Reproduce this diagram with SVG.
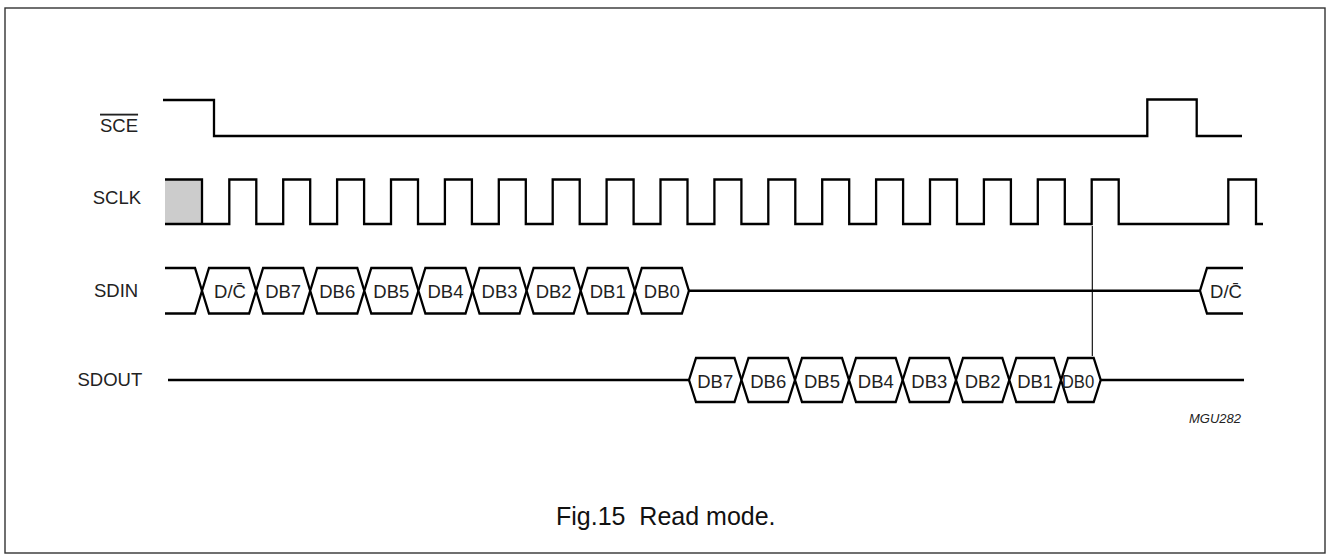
<svg xmlns="http://www.w3.org/2000/svg" width="1327" height="559" viewBox="0 0 1327 559">
<style>
.sig{fill:none;stroke:#000;stroke-width:2.3;stroke-linejoin:miter;stroke-linecap:butt}
.hex{fill:#fff;stroke:#000;stroke-width:2.3;stroke-linejoin:miter}
.lbl{font-family:"Liberation Sans",Arial,sans-serif;font-size:18.5px;fill:#222}
.bt{font-family:"Liberation Sans","DejaVu Sans",Arial,sans-serif;font-size:18.5px;fill:#222;text-anchor:middle}
.cap{font-family:"Liberation Sans",Arial,sans-serif;font-size:25px;fill:#111;white-space:pre}
.id{font-family:"Liberation Sans",Arial,sans-serif;font-size:13px;font-style:italic;fill:#222;text-anchor:end}
</style>
<rect x="5" y="8" width="1320" height="545" fill="#fff" stroke="#333" stroke-width="1.4"/>

<g id="SCE">
<text class="lbl" x="100" y="131.7" text-decoration="overline">SCE</text>
<path class="sig" d="M163,100 H214 V136 H1147.3 V99.5 H1196.7 V136 H1242"/>
</g>

<g id="SCLK">
<text class="lbl" x="92.7" y="204.3">SCLK</text>
<rect x="165" y="179.5" width="37" height="44.5" fill="#ccc"/>
<path class="sig" d="M165,179.5 H202 V224"/>
<path class="sig" d="M165,224 H229.3 V179.5 H256.3 V224 H283.2 V179.5 H310.2 V224 H337.1 V179.5 H364.1 V224 H391 V179.5 H418 V224 H444.9 V179.5 H471.9 V224 H498.8 V179.5 H525.8 V224 H552.7 V179.5 H579.7 V224 H606.6 V179.5 H633.6 V224 H660.5 V179.5 H687.5 V224 H714.4 V179.5 H741.4 V224 H768.3 V179.5 H795.3 V224 H822.2 V179.5 H849.2 V224 H876.1 V179.5 H903.1 V224 H930 V179.5 H957 V224 H983.9 V179.5 H1010.9 V224 H1037.8 V179.5 H1064.8 V224 H1091.7 V179.5 H1118.7 V224 H1228.3 V179.5 H1256 V224 H1263"/>
</g>

<g id="SDIN">
<text class="lbl" x="94" y="296.7">SDIN</text>
<path class="sig" d="M165,268 H195 L202,290.75 L195,313.5 H165"/>
<polygon class="hex" points="202,290.75 209,268 249.1,268 256.1,290.75 249.1,313.5 209,313.5"/>
<polygon class="hex" points="256.1,290.75 263.1,268 303.2,268 310.2,290.75 303.2,313.5 263.1,313.5"/>
<polygon class="hex" points="310.2,290.75 317.2,268 357.3,268 364.3,290.75 357.3,313.5 317.2,313.5"/>
<polygon class="hex" points="364.3,290.75 371.3,268 411.4,268 418.4,290.75 411.4,313.5 371.3,313.5"/>
<polygon class="hex" points="418.4,290.75 425.4,268 465.5,268 472.5,290.75 465.5,313.5 425.4,313.5"/>
<polygon class="hex" points="472.5,290.75 479.5,268 519.6,268 526.6,290.75 519.6,313.5 479.5,313.5"/>
<polygon class="hex" points="526.6,290.75 533.6,268 573.7,268 580.7,290.75 573.7,313.5 533.6,313.5"/>
<polygon class="hex" points="580.7,290.75 587.7,268 627.8,268 634.8,290.75 627.8,313.5 587.7,313.5"/>
<polygon class="hex" points="634.8,290.75 641.8,268 681.9,268 688.9,290.75 681.9,313.5 641.8,313.5"/>
<text class="bt" x="230" y="298">D/C&#x304;</text>
<text class="bt" x="283.15" y="298">DB7</text>
<text class="bt" x="337.25" y="298">DB6</text>
<text class="bt" x="391.35" y="298">DB5</text>
<text class="bt" x="445.45" y="298">DB4</text>
<text class="bt" x="499.55" y="298">DB3</text>
<text class="bt" x="553.65" y="298">DB2</text>
<text class="bt" x="607.75" y="298">DB1</text>
<text class="bt" x="661.85" y="298">DB0</text>
<path class="sig" d="M688.9,290.75 H1200"/>
<path class="sig" d="M1243,268 H1207 L1200,290.75 L1207,313.5 H1243"/>
<text class="bt" x="1226" y="297.5">D/C&#x304;</text>
</g>

<g id="SDOUT">
<text class="lbl" x="77.5" y="386">SDOUT</text>
<path class="sig" d="M168,380 H689"/>
<polygon class="hex" points="689,380 696,358 734.5,358 741.5,380 734.5,402 696,402"/>
<polygon class="hex" points="741.5,380 748.5,358 788,358 795,380 788,402 748.5,402"/>
<polygon class="hex" points="795,380 802,358 842,358 849,380 842,402 802,402"/>
<polygon class="hex" points="849,380 856,358 895.7,358 902.7,380 895.7,402 856,402"/>
<polygon class="hex" points="902.7,380 909.7,358 949,358 956,380 949,402 909.7,402"/>
<polygon class="hex" points="956,380 963,358 1002.3,358 1009.3,380 1002.3,402 963,402"/>
<polygon class="hex" points="1009.3,380 1016.3,358 1054,358 1061,380 1054,402 1016.3,402"/>
<polygon class="hex" points="1061,380 1068,358 1093.7,358 1100.7,380 1093.7,402 1068,402"/>
<text class="bt" x="715.25" y="388">DB7</text>
<text class="bt" x="768.25" y="388">DB6</text>
<text class="bt" x="822" y="388">DB5</text>
<text class="bt" x="875.85" y="388">DB4</text>
<text class="bt" x="929.35" y="388">DB3</text>
<text class="bt" x="982.65" y="388">DB2</text>
<text class="bt" x="1035.15" y="388">DB1</text>
<text class="bt" x="1078" y="388" textLength="32.5" lengthAdjust="spacingAndGlyphs">DB0</text>
<path class="sig" d="M1100.7,380 H1244"/>
</g>

<g id="connectors">
<line x1="1092.3" y1="226" x2="1092.3" y2="356" stroke="#000" stroke-width="1.1"/>
</g>

<text class="id" x="1241" y="423">MGU282</text>
<text class="cap" x="556" y="525">Fig.15  Read mode.</text>
</svg>
